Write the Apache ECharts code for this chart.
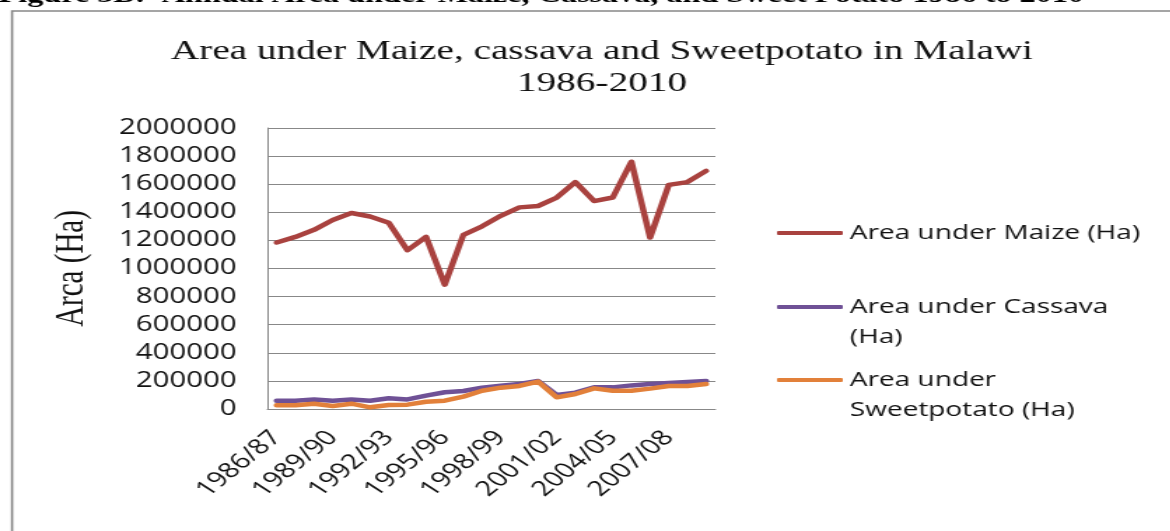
<!DOCTYPE html>
<html>
<head>
<meta charset="utf-8">
<script src="https://cdn.jsdelivr.net/npm/echarts@6/dist/echarts.min.js"></script>
<style>
  html, body { margin: 0; padding: 0; background: #fff; overflow: hidden; }
  /* the source picture is stretched sideways, so draw narrow and stretch the same way */
  #main { width: 836px; height: 531px; transform: scaleX(1.4); transform-origin: 0 0; }
</style>
</head>
<body>
<div id="main"></div>
<script>
var years = ['1986/87', '1987/88', '1988/89', '1989/90', '1990/91', '1991/92', '1992/93', '1993/94',
  '1994/95', '1995/96', '1996/97', '1997/98', '1998/99', '1999/00', '2000/01', '2001/02',
  '2002/03', '2003/04', '2004/05', '2005/06', '2006/07', '2007/08', '2008/09', '2009/10'];

var maize = [1185000, 1225000, 1275000, 1345000, 1395000, 1370000, 1325000, 1130000,
  1225000, 885000, 1240000, 1300000, 1375000, 1435000, 1445000, 1505000,
  1615000, 1480000, 1505000, 1760000, 1220000, 1595000, 1615000, 1695000];

var cassava = [59000, 59000, 68000, 59000, 68000, 59000, 76000, 68000,
  95000, 119000, 128000, 152000, 166000, 178000, 199000, 100000,
  116000, 154000, 154000, 168000, 178000, 185000, 192000, 199000];

var sweetpotato = [26000, 26000, 38000, 21000, 38000, 12000, 28000, 31000,
  52000, 59000, 88000, 130000, 152000, 164000, 195000, 83000,
  107000, 147000, 130000, 130000, 145000, 164000, 164000, 178000];

var names = ['Area under Maize (Ha)', 'Area under Cassava (Ha)', 'Area under Sweetpotato (Ha)'];
// empty first line keeps the icon level with the first text line
var legendText = ['Area under Maize (Ha)', '\nArea under Cassava\n(Ha)', '\nArea under\nSweetpotato (Ha)'];
var colors = ['#a9423f', '#6f5196', '#e2803a'];

var chart = echarts.init(document.getElementById('main'), null, { renderer: 'canvas' });

function makeLegend(i, top) {
  return {
    data: [names[i]],
    left: 555,
    top: top,
    padding: 0,
    icon: 'roundRect',
    itemWidth: 47,
    itemHeight: 4,
    selectedMode: false,
    formatter: function () { return legendText[i]; },
    textStyle: {
      fontFamily: 'Open Sans',
      fontSize: 20,
      lineHeight: 30,
      color: '#111'
    }
  };
}

var option = {
  backgroundColor: '#ffffff',
  animation: false,
  color: colors,
  title: {
    text: 'Area under Maize, cassava and Sweetpotato in Malawi\n1986-2010',
    left: 425,
    top: 31,
    textAlign: 'center',
    textStyle: {
      fontFamily: 'Liberation Serif',
      fontWeight: 'normal',
      fontSize: 28,
      lineHeight: 32,
      color: '#111'
    }
  },
  graphic: [
    {
      type: 'text',
      left: -1,
      top: -15,
      style: {
        text: 'Figure 3B:  Annual Area under Maize, Cassava, and Sweet Potato 1986 to 2010',
        fontFamily: 'Liberation Serif',
        fontWeight: 'bold',
        fontSize: 23,
        fill: '#000'
      }
    },
    {
      type: 'rect',
      shape: { x: 8.6, y: 11, width: 900, height: 600 },
      style: { fill: 'none', stroke: '#888', lineWidth: 1.6 }
    }
  ],
  legend: [
    makeLegend(0, 218),
    makeLegend(1, 262),
    makeLegend(2, 335)
  ],
  grid: {
    left: 191,
    right: 325,
    top: 128,
    bottom: 122
  },
  xAxis: {
    type: 'category',
    data: years,
    boundaryGap: true,
    axisLine: { lineStyle: { color: '#888', width: 1 } },
    axisTick: { show: false },
    axisLabel: {
      interval: 2,
      rotate: 48,
      margin: 25,
      fontFamily: 'Open Sans',
      fontSize: 21,
      color: '#111'
    }
  },
  yAxis: {
    type: 'value',
    min: 0,
    max: 2000000,
    interval: 200000,
    name: 'Arca (Ha)',
    nameLocation: 'middle',
    nameRotate: 90,
    nameGap: 125,
    nameTextStyle: {
      fontFamily: 'Liberation Serif',
      fontSize: 29,
      color: '#111'
    },
    axisLine: { show: true, lineStyle: { color: '#888', width: 1 } },
    axisTick: { show: false },
    splitLine: { lineStyle: { color: '#888', width: 1 } },
    axisLabel: {
      margin: 22,
      fontFamily: 'Open Sans',
      fontSize: 21,
      color: '#111',
      formatter: function (v) { return String(v); }
    }
  },
  series: [
    {
      name: names[0],
      type: 'line',
      data: maize,
      symbol: 'none',
      lineStyle: { width: 4.5, cap: 'round', join: 'round' }
    },
    {
      name: names[1],
      type: 'line',
      data: cassava,
      symbol: 'none',
      lineStyle: { width: 4.5, cap: 'round', join: 'round' }
    },
    {
      name: names[2],
      type: 'line',
      data: sweetpotato,
      symbol: 'none',
      lineStyle: { width: 4.5, cap: 'round', join: 'round' }
    }
  ]
};

chart.setOption(option);
</script>
</body>
</html>
